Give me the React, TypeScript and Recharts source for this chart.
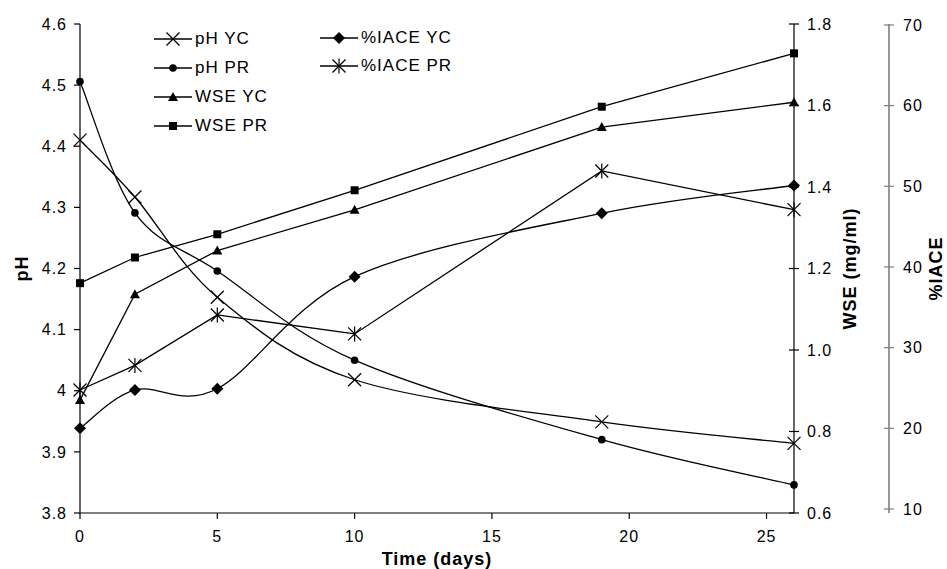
import { LineChart, Line, XAxis, YAxis, Legend, Label } from 'recharts';

document.body.style.margin = '0';

const DAYS = [0, 2, 5, 10, 19, 26];
const PH_YC = [4.41, 4.317, 4.153, 4.018, 3.949, 3.914];
const PH_PR = [4.506, 4.291, 4.196, 4.05, 3.92, 3.846];
const WSE_YC = [0.877, 1.137, 1.244, 1.344, 1.547, 1.608];
const WSE_PR = [1.164, 1.227, 1.284, 1.392, 1.597, 1.728];
const IACE_YC = [20.0, 24.75, 24.9, 38.8, 46.65, 50.1];
const IACE_PR = [24.75, 27.8, 34.05, 31.7, 51.9, 47.1];

const DAY_TICKS = [0, 5, 10, 15, 20, 25];
const PH_TICKS = [3.8, 3.9, 4, 4.1, 4.2, 4.3, 4.4, 4.5, 4.6];
const WSE_TICKS = [0.6, 0.8, 1.0, 1.2, 1.4, 1.6, 1.8];
const IACE_TICKS = [10, 20, 30, 40, 50, 60, 70];

const FONT = '"Liberation Sans", Arial, sans-serif';
const INK = '#000';
const GREY = '#7f7f7f';

type Shape = 'x' | 'circle' | 'triangle' | 'square' | 'diamond' | 'star';

const rows = DAYS.map((day, i) => ({
  day,
  phYC: PH_YC[i],
  phPR: PH_PR[i],
  wseYC: WSE_YC[i],
  wsePR: WSE_PR[i],
  iaceYC: IACE_YC[i],
  iacePR: IACE_PR[i],
}));

// Excel-style smoothed line (Bezier, control points at 1/6 of neighbour spread)
const excelSmooth = (context: any) => {
  let pts: number[][] = [];
  return {
    areaStart() {},
    areaEnd() {},
    lineStart() {
      pts = [];
    },
    point(x: number, y: number) {
      pts.push([+x, +y]);
    },
    lineEnd() {
      const n = pts.length;
      if (!n) return;
      context.moveTo(pts[0][0], pts[0][1]);
      for (let i = 0; i < n - 1; i++) {
        const p0 = pts[Math.max(i - 1, 0)];
        const p1 = pts[i];
        const p2 = pts[i + 1];
        const p3 = pts[Math.min(i + 2, n - 1)];
        context.bezierCurveTo(
          p1[0] + (p2[0] - p0[0]) / 6,
          p1[1] + (p2[1] - p0[1]) / 6,
          p2[0] - (p3[0] - p1[0]) / 6,
          p2[1] - (p3[1] - p1[1]) / 6,
          p2[0],
          p2[1]
        );
      }
    },
  };
};

// right1 = WSE (inner right axis), right2 = %IACE (outer right axis)
const SERIES: { key: string; name: string; axis: string; shape: Shape; smooth: boolean }[] = [
  { key: 'phYC', name: 'pH YC', axis: 'left', shape: 'x', smooth: true },
  { key: 'phPR', name: 'pH PR', axis: 'left', shape: 'circle', smooth: true },
  { key: 'wseYC', name: 'WSE YC', axis: 'right1', shape: 'triangle', smooth: false },
  { key: 'wsePR', name: 'WSE PR', axis: 'right1', shape: 'square', smooth: false },
  { key: 'iaceYC', name: '%IACE YC', axis: 'right2', shape: 'diamond', smooth: true },
  { key: 'iacePR', name: '%IACE PR', axis: 'right2', shape: 'star', smooth: false },
];

function Marker({ shape, cx, cy }: { shape: Shape; cx: number; cy: number }) {
  const s = 6.5;
  switch (shape) {
    case 'x':
      return (
        <g stroke={INK} strokeWidth={1.2}>
          <line x1={cx - s} y1={cy - s} x2={cx + s} y2={cy + s} />
          <line x1={cx - s} y1={cy + s} x2={cx + s} y2={cy - s} />
        </g>
      );
    case 'star':
      return (
        <g stroke={INK} strokeWidth={1.2}>
          <line x1={cx - s} y1={cy - s} x2={cx + s} y2={cy + s} />
          <line x1={cx - s} y1={cy + s} x2={cx + s} y2={cy - s} />
          <line x1={cx} y1={cy - s - 1} x2={cx} y2={cy + s + 1} />
        </g>
      );
    case 'circle':
      return <circle cx={cx} cy={cy} r={3.8} fill={INK} />;
    case 'triangle':
      return <polygon points={`${cx},${cy - 5} ${cx + 5},${cy + 4} ${cx - 5},${cy + 4}`} fill={INK} />;
    case 'square':
      return <rect x={cx - 4} y={cy - 4} width={8} height={8} fill={INK} />;
    case 'diamond':
      return <polygon points={`${cx},${cy - 6} ${cx + 6},${cy} ${cx},${cy + 6} ${cx - 6},${cy}`} fill={INK} />;
  }
  return null;
}

const LEGEND_POS = [
  { left: 154, top: 39 },
  { left: 154, top: 68 },
  { left: 154, top: 97 },
  { left: 154, top: 126 },
  { left: 320, top: 38 },
  { left: 320, top: 66 },
];

function renderLegend(props: any) {
  const payload = props.payload || [];
  return (
    <div style={{ position: 'relative', fontFamily: FONT }}>
      {payload.map((entry: any, i: number) => {
        const cfg = SERIES.find((s) => s.key === entry.dataKey) || SERIES[i];
        const pos = LEGEND_POS[SERIES.indexOf(cfg)];
        return (
          <div
            key={cfg.key}
            style={{
              position: 'absolute',
              left: pos.left,
              top: pos.top - 10,
              height: 20,
              display: 'flex',
              alignItems: 'center',
              whiteSpace: 'nowrap',
            }}
          >
            <svg width={38} height={20}>
              <line x1={0} y1={10} x2={38} y2={10} stroke={INK} strokeWidth={1.3} />
              <Marker shape={cfg.shape} cx={19} cy={10} />
            </svg>
            <span style={{ marginLeft: 3, fontSize: 17, letterSpacing: 1, color: INK, lineHeight: '20px' }}>
              {entry.value}
            </span>
          </div>
        );
      })}
    </div>
  );
}

const crossTick = (color: string, gap: number, fmt: (v: number) => string) => (props: any) => {
  const { x, y, payload } = props;
  return (
    <g>
      <line x1={x - 5} y1={y} x2={x + 5} y2={y} stroke={color} strokeWidth={1.2} />
      <text x={x + gap} y={y} dy="0.36em" textAnchor="start" fontSize={16} letterSpacing={1} fontFamily={FONT} fill={INK}>
        {fmt(payload.value)}
      </text>
    </g>
  );
};

const yTitle = (text: string, dx: number) => (props: any) => {
  const vb = props.viewBox || { x: 0, y: 24, width: 0, height: 489 };
  const x = vb.x + dx;
  const y = vb.y + vb.height / 2;
  return (
    <text
      x={x}
      y={y}
      transform={`rotate(-90, ${x}, ${y})`}
      textAnchor="middle"
      dominantBaseline="central"
      fontFamily={FONT}
      fontWeight="bold"
      fontSize={18}
      letterSpacing={1}
      fill={INK}
    >
      {text}
    </text>
  );
};

const xTitle = (props: any) => {
  const vb = props.viewBox || { x: 80, y: 513, width: 714, height: 56 };
  return (
    <text
      x={vb.x + vb.width / 2}
      y={vb.y + 52}
      textAnchor="middle"
      fontFamily={FONT}
      fontWeight="bold"
      fontSize={18}
      letterSpacing={1}
      fill={INK}
    >
      Time (days)
    </text>
  );
};

const tickStyle = { fontSize: 16, fontFamily: FONT, fill: INK, letterSpacing: 1 };

export default function App() {
  return (
    <div style={{ width: 947, height: 569, background: '#fff' }}>
      <LineChart width={947} height={569} data={rows} margin={{ top: 24, right: 0, bottom: 0, left: 0 }}>
        <XAxis
          dataKey="day"
          type="number"
          domain={[0, 26]}
          ticks={DAY_TICKS}
          height={56}
          tickSize={6}
          tickMargin={12}
          tick={tickStyle}
          axisLine={{ stroke: INK, strokeWidth: 1.2 }}
          tickLine={{ stroke: INK, strokeWidth: 1.2 }}
        >
          <Label content={xTitle} />
        </XAxis>
        <YAxis
          yAxisId="left"
          orientation="left"
          width={80}
          domain={[3.8, 4.6]}
          ticks={PH_TICKS}
          interval={0}
          tickSize={6}
          tickMargin={7}
          tick={tickStyle}
          axisLine={{ stroke: INK, strokeWidth: 1.2 }}
          tickLine={{ stroke: INK, strokeWidth: 1.2 }}
        >
          <Label content={yTitle('pH', 22)} />
        </YAxis>
        <YAxis
          yAxisId="right1"
          orientation="right"
          width={95}
          domain={[0.6, 1.8]}
          ticks={WSE_TICKS}
          interval={0}
          tickSize={0}
          tickMargin={0}
          tickLine={false}
          tick={crossTick(INK, 13, (v) => v.toFixed(1))}
          axisLine={{ stroke: INK, strokeWidth: 1.2 }}
        >
          <Label content={yTitle('WSE (mg/ml)', 56)} />
        </YAxis>
        <YAxis
          yAxisId="right2"
          orientation="right"
          width={58}
          domain={[9.5, 70.12]}
          ticks={IACE_TICKS}
          interval={0}
          tickSize={0}
          tickMargin={0}
          tickLine={false}
          tick={crossTick(GREY, 14, (v) => String(v))}
          axisLine={{ stroke: GREY, strokeWidth: 1.6 }}
        >
          <Label content={yTitle('%IACE', 47)} />
        </YAxis>
        <Legend
          layout="vertical"
          align="center"
          verticalAlign="middle"
          wrapperStyle={{ left: 0, top: 0 }}
          content={renderLegend}
        />
        {SERIES.map((s) => (
          <Line
            key={s.key}
            yAxisId={s.axis}
            dataKey={s.key}
            name={s.name}
            type={s.smooth ? (excelSmooth as any) : 'linear'}
            stroke={INK}
            strokeWidth={1.3}
            isAnimationActive={false}
            activeDot={false}
            dot={(p: any) => <Marker key={`${s.key}-${p.index}`} shape={s.shape} cx={p.cx} cy={p.cy} />}
          />
        ))}
      </LineChart>
    </div>
  );
}
